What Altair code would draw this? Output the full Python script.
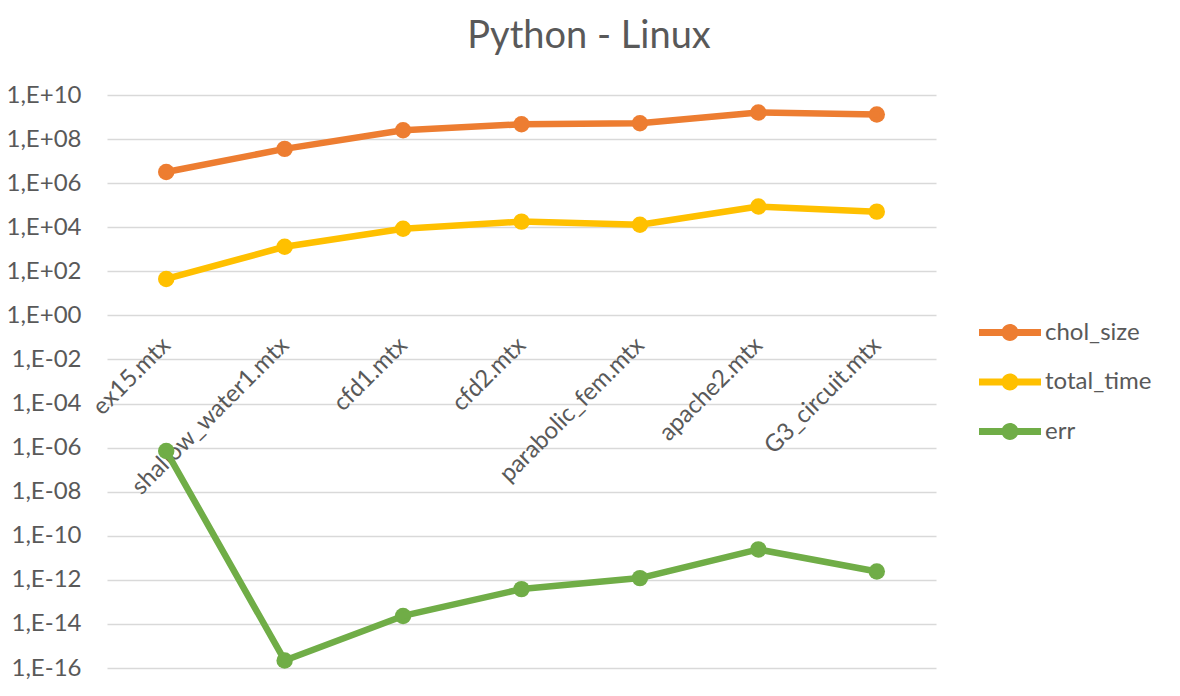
import altair as alt
import pandas as pd

categories = ["ex15.mtx", "shallow_water1.mtx", "cfd1.mtx", "cfd2.mtx",
              "parabolic_fem.mtx", "apache2.mtx", "G3_circuit.mtx"]
chol_size = [3.2e6, 3.6e7, 2.5e8, 4.7e8, 5.2e8, 1.6e9, 1.3e9]
total_time = [45, 1300, 8500, 1.8e4, 1.3e4, 8.7e4, 5.1e4]
err = [7e-7, 2.2e-16, 2.3e-14, 3.8e-13, 1.2e-12, 2.4e-11, 2.4e-12]
series_names = ["chol_size", "total_time", "err"]
series_colors = ["#ED7D31", "#FFC000", "#70AD47"]
y_ticks = [1e-16, 1e-14, 1e-12, 1e-10, 1e-8, 1e-6, 1e-4, 1e-2,
           1e0, 1e2, 1e4, 1e6, 1e8, 1e10]

rows = []
for name, vals in zip(series_names, [chol_size, total_time, err]):
    for c, v in zip(categories, vals):
        rows.append({"file": c, "series": name, "value": v})
df = pd.DataFrame(rows)

FONT = "Lato"
TXT = "#595959"
W, H = 829, 573

e = "round(log(datum.value)/LN10)"
label_expr = f"'1,E' + ({e} < 0 ? '-' : '+') + (abs({e}) < 10 ? '0' : '') + abs({e})"

x_enc = alt.X("file:N", sort=categories,
              scale=alt.Scale(type="point", padding=0.5),
              axis=alt.Axis(title=None, labelAngle=-45, labelAlign="right",
                            labelBaseline="middle", labelPadding=26,
                            labelFontSize=24, labelColor=TXT, labelFont=FONT,
                            labelLimit=0,
                            domain=False, ticks=False, grid=False,
                            offset=-(H * 16 / 26), labelOverlap=False))
y_enc = alt.Y("value:Q",
              scale=alt.Scale(type="log", domain=[1e-16, 1e10], nice=False),
              axis=alt.Axis(title=None, values=y_ticks, labelExpr=label_expr,
                            labelFontSize=24, labelColor=TXT, labelFont=FONT,
                            labelPadding=26, domain=False, ticks=False,
                            grid=True, gridColor="#d9d9d9", gridWidth=1.5))

symbol_path = ("M-2,-0.226 L2,-0.226 L2,0.226 L-2,0.226 Z "
               "M-0.548,0 A0.548,0.548 0 1,1 0.548,0 A0.548,0.548 0 1,1 -0.548,0 Z")

legend = alt.Legend(title=None, orient="none", legendX=887.5, legendY=222,
                    padding=0, symbolType=symbol_path, symbolSize=961,
                    symbolStrokeWidth=0, symbolOpacity=1,
                    labelOffset=19.5, rowPadding=21.5,
                    labelFontSize=24, labelColor=TXT, labelFont=FONT,
                    labelLimit=0)
color = alt.Color("series:N",
                  scale=alt.Scale(domain=series_names, range=series_colors),
                  sort=series_names, legend=legend)

points = alt.Chart(df).mark_point(filled=True, size=270, opacity=1).encode(
    x=x_enc, y=y_enc, color=color,
)
lines = alt.Chart(df).mark_line(strokeWidth=6.5, strokeCap="round",
                                strokeJoin="round").encode(
    x=x_enc, y=y_enc, color=color, detail="series:N",
)

chart = alt.layer(points, lines).properties(
    width=W, height=H,
    title=alt.TitleParams("Python - Linux", fontSize=38, font=FONT,
                          color=TXT, fontWeight="normal", anchor="middle",
                          frame="group", dx=67.5, offset=27),
    autosize=alt.AutoSizeParams(type="none"),
    padding={"left": 99, "top": 87, "right": 236, "bottom": 12},
).configure_view(stroke=None)

chart.save("out.html", embed_options={"renderer": "svg", "actions": False})
